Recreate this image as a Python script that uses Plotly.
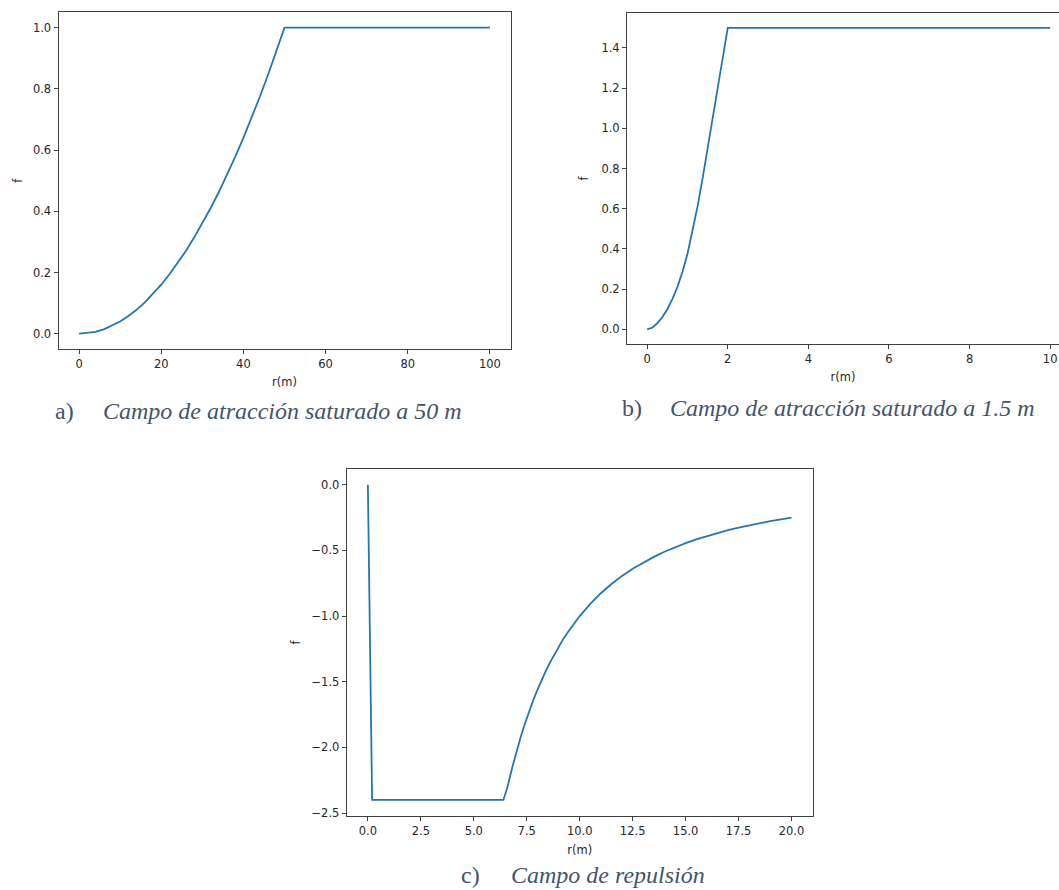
import plotly.graph_objects as go

# ---- data ----
# a) attraction field saturated at 50 m
r_a = [0, 2, 4, 6, 8, 10, 12, 14, 16, 18, 20, 22, 24, 26, 28, 30, 32, 34, 36,
       38, 40, 42, 44, 46, 48, 50, 100]
f_a = [0.0, 0.002, 0.006, 0.014, 0.026, 0.040, 0.058, 0.078, 0.102, 0.130,
       0.160, 0.194, 0.230, 0.270, 0.314, 0.360, 0.410, 0.462, 0.518, 0.578,
       0.640, 0.706, 0.774, 0.846, 0.922, 1.0, 1.0]

# b) attraction field saturated at 1.5 m
r_b = [0, 0.125, 0.25, 0.375, 0.5, 0.625, 0.75, 0.875, 1.0, 1.125, 1.25,
       1.375, 1.5, 1.625, 1.75, 1.875, 2.0, 10]
f_b = [0.0, 0.008, 0.03, 0.06, 0.10, 0.15, 0.21, 0.285, 0.375, 0.485, 0.61,
       0.75, 0.90, 1.05, 1.20, 1.35, 1.5, 1.5]

# c) repulsion field
r_c = [0, 0.2, 6.4, 6.6, 6.8, 7.0, 7.2, 7.4, 7.6, 7.8, 8.0, 8.2, 8.4, 8.6,
       8.8, 9.0, 9.2, 9.4, 9.6, 9.8, 10.0, 10.5, 11, 11.5, 12, 12.5, 13, 13.5,
       14, 14.5, 15, 15.5, 16, 16.5, 17, 17.5, 18, 18.5, 19, 19.5, 20]
f_c = [0.0, -2.4, -2.4, -2.296, -2.163, -2.041, -1.929, -1.826, -1.731,
       -1.644, -1.563, -1.487, -1.417, -1.352, -1.291, -1.235, -1.181, -1.132,
       -1.085, -1.041, -1.0, -0.907, -0.826, -0.756, -0.694, -0.640, -0.592,
       -0.549, -0.510, -0.476, -0.444, -0.416, -0.391, -0.367, -0.346, -0.327,
       -0.309, -0.292, -0.277, -0.263, -0.25]

x_label = "r(m)"
y_label = "f"
captions = [
    ("a)", "Campo de atracción saturado a 50 m"),
    ("b)", "Campo de atracción saturado a 1.5 m"),
    ("c)", "Campo de repulsión"),
]

# ---- figure ----
W, H = 1059, 890
LINE = "#1f77b4"
AX = "#404040"
TICKFONT = dict(family="DejaVu Sans", size=11.5, color="#262626")
CAPCOLOR = "#44546A"
CAPFONT = "Liberation Serif, Times New Roman, serif"


def px(x):
    return x / W


def py(y):
    return 1 - y / H


fig = go.Figure()
fig.add_trace(go.Scatter(x=r_a, y=f_a, mode="lines", line=dict(color=LINE, width=1.8),
                         xaxis="x", yaxis="y", showlegend=False))
fig.add_trace(go.Scatter(x=r_b, y=f_b, mode="lines", line=dict(color=LINE, width=1.8),
                         xaxis="x2", yaxis="y2", showlegend=False))
fig.add_trace(go.Scatter(x=r_c, y=f_c, mode="lines", line=dict(color=LINE, width=1.8),
                         xaxis="x3", yaxis="y3", showlegend=False))

common = dict(showgrid=False, zeroline=False, showline=True, linecolor=AX, linewidth=1,
              ticks="outside", ticklen=4, tickwidth=1, tickcolor=AX,
              tickfont=TICKFONT, automargin=False)
title_font = dict(family="DejaVu Sans", size=11.5, color="#262626")

fig.update_layout(
    width=W, height=H,
    margin=dict(l=0, r=0, t=0, b=0),
    paper_bgcolor="white", plot_bgcolor="white",
    showlegend=False,
    xaxis=dict(common, domain=[px(58.5), px(510.5)], anchor="y", range=[-5, 105],
               tickmode="array", tickvals=[0, 20, 40, 60, 80, 100], mirror=True,
               title=dict(text=x_label, font=title_font, standoff=8)),
    yaxis=dict(common, domain=[py(349), py(12.3)], anchor="x", range=[-0.05, 1.05],
               tickmode="array", tickvals=[0, 0.2, 0.4, 0.6, 0.8, 1.0], tickformat=".1f",
               mirror=True, title=dict(text=y_label, font=title_font, standoff=7)),
    xaxis2=dict(common, domain=[px(627), 1.0], anchor="y2", range=[-0.5, 10.22],
                tickmode="array", tickvals=[0, 2, 4, 6, 8, 10], mirror=True,
                title=dict(text=x_label, font=title_font, standoff=7)),
    yaxis2=dict(common, domain=[py(344.4), py(12.7)], anchor="x2", range=[-0.075, 1.575],
                tickmode="array", tickvals=[0, 0.2, 0.4, 0.6, 0.8, 1.0, 1.2, 1.4],
                tickformat=".1f", mirror=False,
                title=dict(text=y_label, font=title_font, standoff=10)),
    xaxis3=dict(common, domain=[px(346.7), px(812.7)], anchor="y3", range=[-1, 21],
                tickmode="array", tickvals=[0, 2.5, 5, 7.5, 10, 12.5, 15, 17.5, 20],
                tickformat=".1f", mirror=True,
                title=dict(text=x_label, font=title_font, standoff=9)),
    yaxis3=dict(common, domain=[py(815.7), py(469)], anchor="x3", range=[-2.52, 0.12],
                tickmode="array", tickvals=[0, -0.5, -1.0, -1.5, -2.0, -2.5],
                tickformat=".1f", mirror=True,
                title=dict(text=y_label, font=title_font, standoff=8)),
)

cap_pos = [((53, 101), 411, "middle"), ((620, 668), 408, "middle"), ((459, 509), 889.5, "bottom")]
for (lab, txt), ((xl, xt), yc, ya) in zip(captions, cap_pos):
    fig.add_annotation(x=px(xl), y=py(yc), xref="paper", yref="paper", text=lab,
                       showarrow=False, xanchor="left", yanchor=ya,
                       font=dict(family=CAPFONT, size=24, color=CAPCOLOR))
    fig.add_annotation(x=px(xt), y=py(yc), xref="paper", yref="paper",
                       text="<i>" + txt + "</i>",
                       showarrow=False, xanchor="left", yanchor=ya,
                       font=dict(family=CAPFONT, size=24, color=CAPCOLOR))

fig.write_html("out.html")
